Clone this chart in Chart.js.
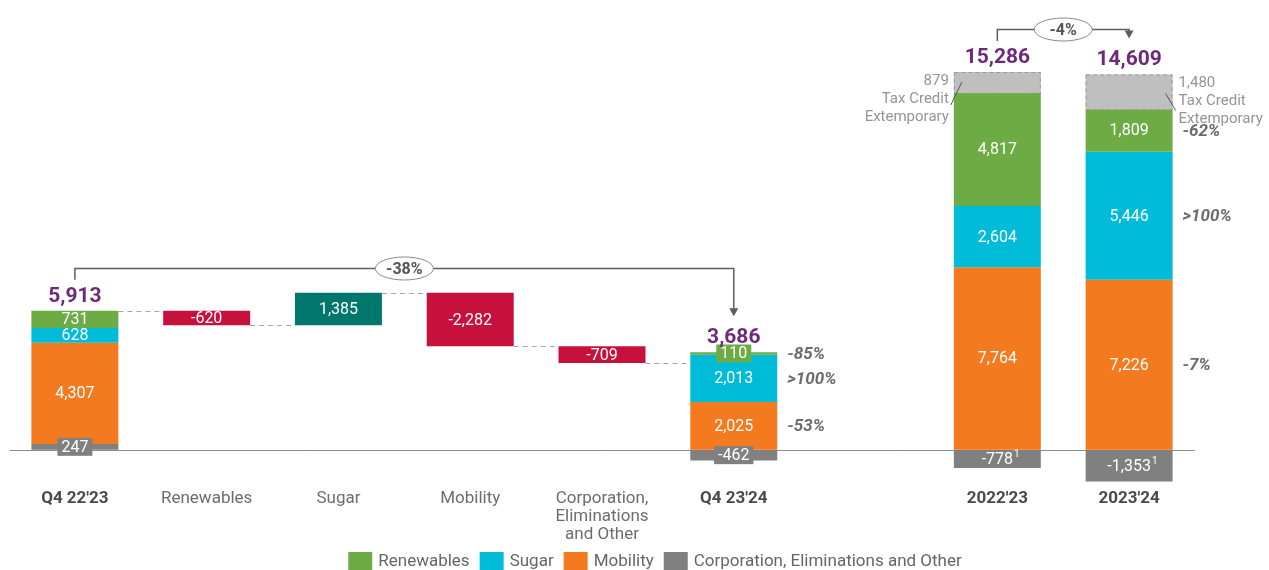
<!DOCTYPE html>
<html>
<head>
<meta charset="utf-8">
<script src="https://cdn.jsdelivr.net/npm/chart.js@4.4.0/dist/chart.umd.min.js"></script>
<style>
html, body { margin: 0; padding: 0; background: #fff; }
#wrap { width: 1269px; height: 570px; }
</style>
</head>
<body>
<div id="wrap"><canvas id="ebitda"></canvas></div>
<script>
var categories = ["Q4 22'23", 'Renewables', 'Sugar', 'Mobility', ['Corporation,', 'Eliminations', 'and Other'], "Q4 23'24", '', "2022'23", "2023'24"];
var totalColumns = [0, 5, 7, 8];

// segment values per column (null = no segment)
var renewables  = [731, null, null, null, null, 110, null, 4817, 1809];
var sugar       = [628, null, null, null, null, 2013, null, 2604, 5446];
var mobility    = [4307, null, null, null, null, 2025, null, 7764, 7226];
var corporation = [247, null, null, null, null, -462, null, -778, -1353];
var corpNotes   = [null, null, null, null, null, null, null, '1', '1'];
var taxCredit   = [null, null, null, null, null, null, null, 879, 1480];
var taxCreditText = ['Tax Credit', 'Extemporary'];

// bridge steps between the two quarters
var bridge = [null, -620, 1385, -2282, -709, null, null, null, null];
var totals = [5913, null, null, null, null, 3686, null, 15286, 14609];

// change vs. prior period, shown next to the segments
var renewablesChg = [null, null, null, null, null, '-85%', null, null, '-62%'];
var sugarChg      = [null, null, null, null, null, '>100%', null, null, '>100%'];
var mobilityChg   = [null, null, null, null, null, '-53%', null, null, '-7%'];

var compareFrom  = [0, 7];
var compareTo    = [5, 8];
var compareLabel = ['-38%', '-4%'];

var FONT = 'Roboto, "Noto Sans", sans-serif';
var colors = {
    renewables: '#6dab45', sugar: '#00bcd9', mobility: '#f47a20', corporation: '#808080',
    tax: '#bfbfbf', down: '#c8103c', up: '#00776d', total: '#6e2a7a'
};

var fmt = function(v) { return v.toLocaleString('en-US'); };

// stack order bottom to top for positive values, negatives go below zero
var stackOrder = [corporation, mobility, sugar, renewables, taxCredit];
var floating = stackOrder.map(function() { return []; });
var stackTop = [];
for (var i = 0; i < categories.length; i++) {
    var pos = 0, neg = 0;
    stackOrder.forEach(function(s, k) {
        var v = s[i];
        if (v == null) { floating[k].push(null); return; }
        if (v >= 0) { floating[k].push([pos, pos + v]); pos += v; }
        else { floating[k].push([neg + v, neg]); neg += v; }
    });
    stackTop.push(pos);
}

var running = totals[0], bridgeBars = [], levels = [totals[0]];
bridge.forEach(function(v, i) {
    if (v == null) { bridgeBars.push(null); return; }
    bridgeBars.push([running, running + v]);
    running += v;
    levels.push(running);
});
bridge.forEach(function(v, i) { if (v != null) stackTop[i] = Math.max(bridgeBars[i][0], bridgeBars[i][1]); });

var decorations = {
    id: 'decorations',
    beforeDatasetsDraw: function(chart) {
        var ctx = chart.ctx, area = chart.chartArea, y0 = Math.round(chart.scales.y.getPixelForValue(0)) + 0.5;
        ctx.save();
        ctx.strokeStyle = '#8c8c8c';
        ctx.lineWidth = 1;
        ctx.beginPath();
        ctx.moveTo(area.left + 1, y0);
        ctx.lineTo(area.right, y0);
        ctx.stroke();
        ctx.restore();
    },
    afterDatasetsDraw: function(chart) {
        var ctx = chart.ctx, ys = chart.scales.y, xs = chart.scales.x;
        var bars = function(di) { return chart.getDatasetMeta(di).data; };
        ctx.save();

        // dashed connectors of the bridge
        ctx.strokeStyle = '#a6a6a6';
        ctx.lineWidth = 1;
        ctx.setLineDash([5, 4]);
        var bridgeIdx = [0, 1, 2, 3, 4, 5];
        for (var k = 0; k < bridgeIdx.length - 1; k++) {
            var a = bridge[bridgeIdx[k]] != null ? bars(6)[bridgeIdx[k]] : bars(1)[bridgeIdx[k]];
            var b = bridge[bridgeIdx[k + 1]] != null ? bars(6)[bridgeIdx[k + 1]] : bars(1)[bridgeIdx[k + 1]];
            var ly = Math.round(ys.getPixelForValue(levels[k])) + 0.5;
            ctx.beginPath();
            ctx.moveTo(a.x + a.width / 2, ly);
            ctx.lineTo(b.x - b.width / 2, ly);
            ctx.stroke();
        }

        // dashed outline of the tax credit boxes
        ctx.strokeStyle = '#9a9a9a';
        ctx.setLineDash([4, 3]);
        bars(4).forEach(function(bar, i) {
            if (taxCredit[i] == null) return;
            var top = Math.min(bar.y, bar.base), bot = Math.max(bar.y, bar.base);
            ctx.strokeRect(bar.x - bar.width / 2 + 0.5, top + 0.5, bar.width - 1, bot - top);
        });
        ctx.setLineDash([]);

        // values inside the segments
        ctx.textAlign = 'center';
        ctx.textBaseline = 'middle';
        chart.data.datasets.forEach(function(ds, di) {
            if (!ds.src || ds.noLabel) return;
            bars(di).forEach(function(bar, i) {
                var v = ds.src[i];
                if (v == null) return;
                var top = Math.min(bar.y, bar.base), bot = Math.max(bar.y, bar.base), cy = (top + bot) / 2;
                var txt = fmt(v);
                ctx.font = '16px ' + FONT;
                var w = ctx.measureText(txt).width;
                var fill = typeof ds.backgroundColor === 'function' ? (v < 0 ? colors.down : colors.up) : ds.backgroundColor;
                if (bot - top < 14) {
                    ctx.fillStyle = fill;
                    ctx.fillRect(bar.x - w / 2 - 4, cy - 9, w + 8, 18);
                }
                ctx.fillStyle = '#fff';
                ctx.fillText(txt, bar.x, cy + 1);
                if (ds.notes && ds.notes[i]) {
                    ctx.font = '10px ' + FONT;
                    ctx.textAlign = 'left';
                    ctx.fillText(ds.notes[i], bar.x + w / 2 + 1, cy - 4);
                    ctx.textAlign = 'center';
                }
            });
        });

        // totals above the stacks
        ctx.fillStyle = colors.total;
        ctx.font = 'bold 21px ' + FONT;
        ctx.textBaseline = 'alphabetic';
        totals.forEach(function(t, i) {
            if (t == null) return;
            ctx.fillText(fmt(t), xs.getPixelForValue(i), ys.getPixelForValue(stackTop[i]) - 9);
        });

        // tax credit captions with leader lines
        ctx.font = '15px ' + FONT;
        ctx.fillStyle = '#959595';
        ctx.strokeStyle = '#555';
        ctx.lineWidth = 1;
        ctx.textBaseline = 'middle';
        bars(4).forEach(function(bar, i) {
            if (taxCredit[i] == null) return;
            var top = Math.min(bar.y, bar.base);
            var left = bar.x - bar.width / 2, right = bar.x + bar.width / 2;
            var lines = [fmt(taxCredit[i])].concat(taxCreditText);
            var onRight = i === categories.length - 1;
            ctx.textAlign = onRight ? 'left' : 'right';
            lines.forEach(function(s, n) {
                ctx.fillText(s, onRight ? right + 6 : left - 5, top + 9 + n * 18);
            });
            ctx.beginPath();
            if (onRight) { ctx.moveTo(right - 7, top + 19); ctx.lineTo(right + 3, top + 36); }
            else { ctx.moveTo(left - 3, top + 33); ctx.lineTo(left + 8, top + 10); }
            ctx.stroke();
        });

        // change labels to the right of the segments
        ctx.font = 'italic bold 17px ' + FONT;
        ctx.fillStyle = '#6b6b6b';
        ctx.textAlign = 'left';
        [[renewablesChg, 3], [sugarChg, 2], [mobilityChg, 1]].forEach(function(pair) {
            var arr = pair[0];
            bars(pair[1]).forEach(function(bar, i) {
                if (arr[i] == null) return;
                var cy = (bar.y + bar.base) / 2;
                ctx.fillText(arr[i], bar.x + bar.width / 2 + 10, cy + 1);
            });
        });

        // comparison brackets
        compareFrom.forEach(function(from, n) {
            var to = compareTo[n];
            var xf = xs.getPixelForValue(from), xt = xs.getPixelForValue(to);
            var tf = ys.getPixelForValue(stackTop[from]), tt = ys.getPixelForValue(stackTop[to]);
            var yl = Math.round(Math.min(tf, tt) - 43) + 0.5;
            var tip = tt - 36;
            ctx.strokeStyle = '#5f5f5f';
            ctx.fillStyle = '#5f5f5f';
            ctx.lineWidth = 1.5;
            ctx.beginPath();
            ctx.moveTo(xf, tf - 31);
            ctx.lineTo(xf, yl);
            ctx.lineTo(xt, yl);
            ctx.lineTo(xt, tip - 7);
            ctx.stroke();
            ctx.beginPath();
            ctx.moveTo(xt - 4.5, tip - 8);
            ctx.lineTo(xt + 4.5, tip - 8);
            ctx.lineTo(xt, tip);
            ctx.closePath();
            ctx.fill();

            var mx = (xf + xt) / 2;
            ctx.beginPath();
            ctx.ellipse(mx, yl, 29, 11.5, 0, 0, Math.PI * 2);
            ctx.fillStyle = '#fff';
            ctx.fill();
            ctx.lineWidth = 1;
            ctx.strokeStyle = '#8a8a8a';
            ctx.stroke();
            ctx.fillStyle = '#555';
            ctx.font = 'bold 16px ' + FONT;
            ctx.textAlign = 'center';
            ctx.textBaseline = 'middle';
            ctx.fillText(compareLabel[n], mx, yl + 1);
        });

        // legend
        var items = chart.data.datasets.filter(function(ds) { return ds.inLegend; })
            .sort(function(a, b) { return a.order - b.order; });
        ctx.font = '17px ' + FONT;
        var widths = items.map(function(ds) { return 24 + 6 + ctx.measureText(ds.label).width; });
        var total = widths.reduce(function(a, b) { return a + b; }, 0) + 10 * (items.length - 1);
        var lx = 655 - total / 2, ly = 561;
        ctx.textAlign = 'left';
        ctx.textBaseline = 'middle';
        items.forEach(function(ds, n) {
            ctx.fillStyle = ds.backgroundColor;
            ctx.fillRect(lx, ly - 9, 24, 18);
            ctx.fillStyle = '#666';
            ctx.fillText(ds.label, lx + 30, ly + 1);
            lx += widths[n] + 10;
        });
        ctx.restore();
    }
};

new Chart(document.getElementById('ebitda'), {
    type: 'bar',
    data: {
        labels: categories,
        datasets: [
            { label: 'Corporation, Eliminations and Other', data: floating[0], src: corporation, notes: corpNotes, backgroundColor: colors.corporation, inLegend: true, order: 4 },
            { label: 'Mobility', data: floating[1], src: mobility, backgroundColor: colors.mobility, inLegend: true, order: 3 },
            { label: 'Sugar', data: floating[2], src: sugar, backgroundColor: colors.sugar, inLegend: true, order: 2 },
            { label: 'Renewables', data: floating[3], src: renewables, backgroundColor: colors.renewables, inLegend: true, order: 1 },
            { label: 'Tax Credit Extemporary', data: floating[4], src: taxCredit, noLabel: true, backgroundColor: colors.tax },
            { label: 'unused', data: [], hidden: true },
            { label: 'Bridge', data: bridgeBars, src: bridge,
              backgroundColor: function(c) { var v = bridge[c.dataIndex]; return v < 0 ? colors.down : colors.up; } }
        ]
    },
    options: {
        responsive: true,
        maintainAspectRatio: false,
        animation: false,
        layout: { padding: { left: 9, right: 74, top: 50, bottom: 25 } },
        plugins: { legend: { display: false }, tooltip: { enabled: false } },
        datasets: { bar: { grouped: false, categoryPercentage: 1, barPercentage: 0.66, borderWidth: 0 } },
        scales: {
            x: {
                grid: { display: false },
                border: { display: false },
                afterFit: function(s) { s.height = 60; },
                ticks: {
                    autoSkip: false,
                    maxRotation: 0,
                    padding: -3,
                    font: function(c) {
                        var tot = totalColumns.indexOf(c.index) >= 0;
                        return { family: FONT, size: 17, weight: tot ? 'bold' : 'normal', lineHeight: 1.06 };
                    },
                    color: function(c) { return totalColumns.indexOf(c.index) >= 0 ? '#4a4a4a' : '#6d6d6d'; }
                }
            },
            y: { display: false, min: -1500, max: 17000 }
        }
    },
    plugins: [decorations]
});
</script>
</body>
</html>
